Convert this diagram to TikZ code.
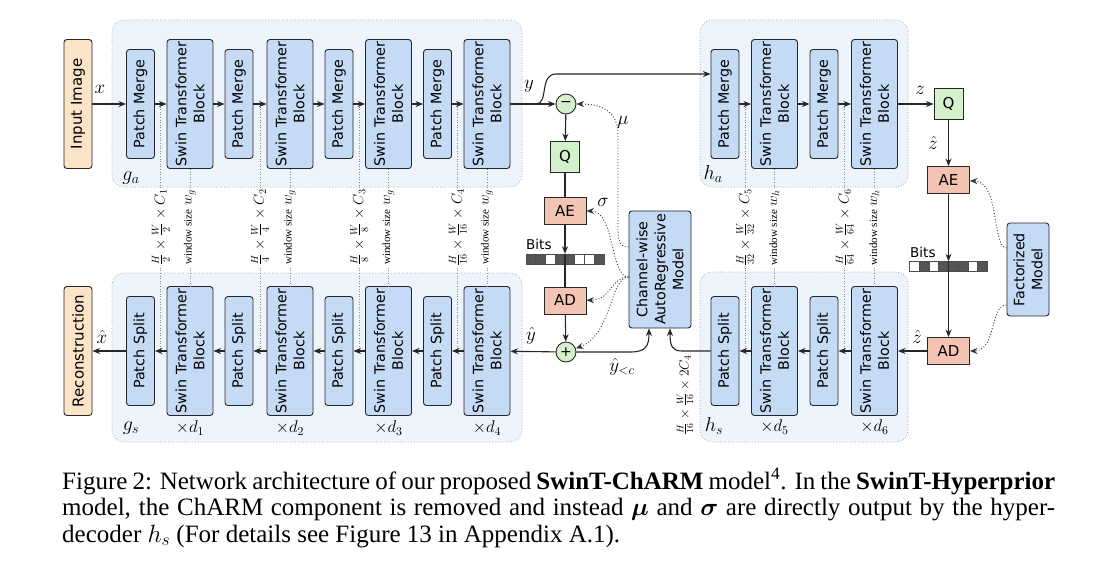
\documentclass[tikz,border=0pt]{standalone}
\usepackage{fix-cm}
\usepackage{amsmath}
\usepackage{fontspec}
\setmainfont{Liberation Serif}
\newfontfamily\dejavu{DejaVu Sans}
\usetikzlibrary{arrows.meta,calc}
\definecolor{groupbg}{HTML}{EEF4FC}
\definecolor{blockblue}{HTML}{C5DAF4}
\definecolor{ioorange}{HTML}{FBE4C8}
\definecolor{qgreen}{HTML}{D4F1CC}
\definecolor{aered}{HTML}{F3C3B3}
\definecolor{bitdark}{HTML}{555555}
\begin{document}
\begin{tikzpicture}[x=1pt,y=-1pt,
  >={Stealth[length=7.5pt,width=6pt]},
  plainline/.style={line width=1.1pt, draw=black!85},
  conn/.style={->, line width=1.1pt, draw=black!85},
  dconn/.style={->, dotted, line width=0.9pt, draw=black!80},
  grp/.style={fill=groupbg, draw=black!40, dotted, rounded corners=12pt, line width=0.7pt},
  blk/.style={draw=black!85, line width=0.9pt, fill=blockblue, rounded corners=3pt, rotate=90, inner sep=0pt, align=center, font=\dejavu\fontsize{14.3}{18}\selectfont},
  pmbox/.style={blk, minimum width=109pt, minimum height=28pt},
  stbbox/.style={blk, minimum width=129pt, minimum height=46pt},
  iobox/.style={blk, fill=ioorange, minimum width=129pt, minimum height=28pt, font=\dejavu\fontsize{15}{18}\selectfont},
  sqbox/.style={draw=black!85, line width=0.9pt, inner sep=0pt, font=\dejavu\fontsize{15}{17}\selectfont},
  qbox/.style={sqbox, fill=qgreen, minimum width=29pt, minimum height=31pt},
  codebox/.style={sqbox, fill=aered, minimum width=42pt, minimum height=27pt},
  opc/.style={circle, draw=black!85, line width=0.9pt, fill=qgreen, minimum size=20pt, inner sep=0pt, font=\dejavu\fontsize{14}{16}\selectfont},
  mlab/.style={font=\fontsize{19}{22}\selectfont, inner sep=0pt},
  glab/.style={font=\fontsize{20}{22}\selectfont, inner sep=0pt},
  dlab/.style={font=\fontsize{17}{20}\selectfont, inner sep=0pt},
  dimline/.style={dotted, draw=black!45, line width=0.6pt},
  dimlab/.style={rotate=90, fill=white, inner sep=1pt, font=\fontsize{14.5}{16}\selectfont},
  bitc/.style={draw=black!70, line width=0.5pt},
  bitslab/.style={anchor=south west, inner sep=0pt, font=\dejavu\fontsize{13.5}{15}\selectfont},
  caplab/.style={anchor=base west, inner sep=0pt, font=\fontsize{25}{27}\selectfont},
]
\fill[white] (0,0) rectangle (1119,566);
\useasboundingbox (0,0) rectangle (1119,566);

% groups
\draw[grp] (112,20) rectangle (522,187);
\draw[grp] (112,273) rectangle (522,442);
\draw[grp] (700,20) rectangle (908,187);
\draw[grp] (700,272) rectangle (908,442);

% top row
\node[iobox] (inp) at (78,104) {Input Image};
\node[pmbox] (pm1) at (140.5,104) {Patch Merge};
\node[stbbox] (st1) at (190,104) {Swin Transformer\\Block};
\node[pmbox] (pm2) at (239,104) {Patch Merge};
\node[stbbox] (st2) at (290,104) {Swin Transformer\\Block};
\node[pmbox] (pm3) at (339,104) {Patch Merge};
\node[stbbox] (st3) at (388.5,104) {Swin Transformer\\Block};
\node[pmbox] (pm4) at (437.5,104) {Patch Merge};
\node[stbbox] (st4) at (487,104) {Swin Transformer\\Block};
\node[pmbox] (pm5) at (725,104) {Patch Merge};
\node[stbbox] (st5) at (774.5,104) {Swin Transformer\\Block};
\node[pmbox] (pm6) at (824,104) {Patch Merge};
\node[stbbox] (st6) at (874.5,104) {Swin Transformer\\Block};

% bottom row
\node[iobox] (rec) at (78,351) {Reconstruction};
\node[pmbox] (ps1) at (140.5,351) {Patch Split};
\node[stbbox] (bt1) at (190,351) {Swin Transformer\\Block};
\node[pmbox] (ps2) at (239,351) {Patch Split};
\node[stbbox] (bt2) at (290,351) {Swin Transformer\\Block};
\node[pmbox] (ps3) at (339,351) {Patch Split};
\node[stbbox] (bt3) at (388.5,351) {Swin Transformer\\Block};
\node[pmbox] (ps4) at (437.5,351) {Patch Split};
\node[stbbox] (bt4) at (487,351) {Swin Transformer\\Block};
\node[pmbox] (ps5) at (725,351) {Patch Split};
\node[stbbox] (bt5) at (774.5,351) {Swin Transformer\\Block};
\node[pmbox] (ps6) at (824,351) {Patch Split};
\node[stbbox] (bt6) at (874.5,351) {Swin Transformer\\Block};

% dimension annotations
\draw[dimline] ($(pm1.south)!0.5!(st1.north)$) -- node[dimlab]{$\frac{H}{2}\times\frac{W}{2}\times C_1$} ($(ps1.south)!0.5!(bt1.north)$);
\draw[dimline] (st1.west) -- node[dimlab]{{\fontsize{11}{12}\selectfont window size} $w_g$} (bt1.east);
\draw[dimline] ($(pm2.south)!0.5!(st2.north)$) -- node[dimlab]{$\frac{H}{4}\times\frac{W}{4}\times C_2$} ($(ps2.south)!0.5!(bt2.north)$);
\draw[dimline] (st2.west) -- node[dimlab]{{\fontsize{11}{12}\selectfont window size} $w_g$} (bt2.east);
\draw[dimline] ($(pm3.south)!0.5!(st3.north)$) -- node[dimlab]{$\frac{H}{8}\times\frac{W}{8}\times C_3$} ($(ps3.south)!0.5!(bt3.north)$);
\draw[dimline] (st3.west) -- node[dimlab]{{\fontsize{11}{12}\selectfont window size} $w_g$} (bt3.east);
\draw[dimline] ($(pm4.south)!0.5!(st4.north)$) -- node[dimlab]{$\frac{H}{16}\times\frac{W}{16}\times C_4$} ($(ps4.south)!0.5!(bt4.north)$);
\draw[dimline] (st4.west) -- node[dimlab]{{\fontsize{11}{12}\selectfont window size} $w_g$} (bt4.east);
\draw[dimline] ($(pm5.south)!0.5!(st5.north)$) -- node[dimlab]{$\frac{H}{32}\times\frac{W}{32}\times C_5$} ($(ps5.south)!0.5!(bt5.north)$);
\draw[dimline] (st5.west) -- node[dimlab]{{\fontsize{11}{12}\selectfont window size} $w_h$} (bt5.east);
\draw[dimline] ($(pm6.south)!0.5!(st6.north)$) -- node[dimlab]{$\frac{H}{64}\times\frac{W}{64}\times C_6$} ($(ps6.south)!0.5!(bt6.north)$);
\draw[dimline] (st6.west) -- node[dimlab]{{\fontsize{11}{12}\selectfont window size} $w_h$} (bt6.east);

% top row connectors
\draw[conn] (inp) -- (pm1);
\draw[conn] (pm1) -- (st1);
\draw[conn] (st1) -- (pm2);
\draw[conn] (pm2) -- (st2);
\draw[conn] (st2) -- (pm3);
\draw[conn] (pm3) -- (st3);
\draw[conn] (st3) -- (pm4);
\draw[conn] (pm4) -- (st4);
\draw[conn] (pm5) -- (st5);
\draw[conn] (st5) -- (pm6);
\draw[conn] (pm6) -- (st6);

% bottom row connectors
\draw[conn] (bt6) -- (ps6);
\draw[conn] (ps6) -- (bt5);
\draw[conn] (bt5) -- (ps5);
\draw[conn] (bt4) -- (ps4);
\draw[conn] (ps4) -- (bt3);
\draw[conn] (bt3) -- (ps3);
\draw[conn] (ps3) -- (bt2);
\draw[conn] (bt2) -- (ps2);
\draw[conn] (ps2) -- (bt1);
\draw[conn] (bt1) -- (ps1);
\draw[conn] (ps1) -- (rec);

% middle coding chain
\node[opc] (minus) at (566,104) {−};
\node[qbox] (q1) at (565,157) {Q};
\node[codebox] (ae1) at (565,211) {AE};
\node[inner sep=0pt, minimum width=78pt, minimum height=10pt] (bits1) at (565,259) {};
\node[codebox] (ad1) at (565,300.5) {AD};
\node[opc] (plus) at (566,352) {+};
\node[blk, minimum width=117pt, minimum height=62pt] (charm) at (660,269.5) {Channel-wise\\AutoRegressive\\Model};

\foreach \i in {0,...,7} \draw[bitc, fill=white] ($(bits1.west)+(\i*9.75,-5)$) rectangle ++(9.75,10);
\foreach \i in {0,1,3,4,7} \draw[bitc, fill=bitdark] ($(bits1.west)+(\i*9.75,-5)$) rectangle ++(9.75,10);
\node[bitslab] (bl1) at (526,250) {Bits};

\draw[conn] (st4) -- (minus);
\coordinate (ybr) at (536,104);
\draw[conn] (ybr) .. controls (549,104) and (539,74) .. (556,74) -- (pm5.north |- 0,74);
\draw[conn] (minus) -- (q1);
\draw[plainline] (q1) -- (ae1);
\draw[conn] (ae1) -- (bits1.north);
\draw[plainline] (bits1.north) -- (ad1);
\draw[conn] (ad1) -- (plus);
\draw[conn] (plus) -- (bt4);
\draw[conn] (plus) -- (630,352) .. controls (646,352) and (649,346) .. (649,0 |- charm.west);
\draw[conn] (ps5) -- (682,351) .. controls (672,351) and (670,346) .. (670,0 |- charm.west);

\coordinate (cm1) at (charm.north |- 0,247);
\coordinate (cm2) at (charm.north |- 0,277);
\draw[dconn] (cm1) .. controls (618,247) and (618,238) .. (618,225) -- (618,135) .. controls (618,110) and (600,104) .. (minus);
\draw[dconn] (cm2) .. controls (610,277) and (615,211) .. (ae1);
\draw[dconn] (cm2) .. controls (610,277) and (612,300) .. (ad1);
\draw[dconn] (cm2) .. controls (610,277) and (612,335) .. (plus);

% right coding chain
\node[qbox] (q2) at (948.5,104) {Q};
\node[codebox] (ae2) at (948.5,180) {AE};
\node[inner sep=0pt, minimum width=78pt, minimum height=10pt] (bits2) at (948.5,266.5) {};
\node[codebox] (ad2) at (948.5,351) {AD};
\node[blk, minimum width=93pt, minimum height=42pt] (fm) at (1028,269.5) {Factorized\\Model};

\foreach \i in {0,...,7} \draw[bitc, fill=white] ($(bits2.west)+(\i*9.75,-5)$) rectangle ++(9.75,10);
\foreach \i in {1,3,4,5,7} \draw[bitc, fill=bitdark] ($(bits2.west)+(\i*9.75,-5)$) rectangle ++(9.75,10);
\node[bitslab] (bl2) at (910,257.5) {Bits};

\draw[conn] (st6) -- (q2);
\draw[conn] (q2) -- (ae2);
\draw[conn] (ae2) -- (bits2.north);
\draw[conn] (bits2.north) -- (ad2);
\draw[conn] (ad2) -- (bt6);
\draw[dconn] (fm.north |- 0,248) .. controls (992,248) and (1000,182) .. (ae2);
\draw[dconn] (fm.north |- 0,305) .. controls (990,305) and (996,351) .. (ad2);

% math labels
\node[mlab] (lx) at (100,89) {$x$};
\node[mlab] (ly) at (529,86) {$y$};
\node[mlab] (lmu) at (623,122) {$\mu$};
\node[mlab] (lsig) at (603,202) {$\sigma$};
\node[mlab] (lyh) at (531,336) {$\hat{y}$};
\node[mlab] (lyc) at (622,367) {$\hat{y}_{<c}$};
\node[mlab] (lxh) at (102,337) {$\hat{x}$};
\node[mlab] (lz) at (920,90) {$z$};
\node[mlab] (lzh1) at (933,143) {$\hat{z}$};
\node[mlab] (lzh2) at (917,337) {$\hat{z}$};
\node[rotate=90, inner sep=0pt, font=\fontsize{13.5}{15}\selectfont] (dim7) at (685,395) {$\frac{H}{16}\times\frac{W}{16}\times 2C_4$};

\node[glab] (lga) at (131,178) {$g_a$};
\node[glab] (lgs) at (131,428) {$g_s$};
\node[glab] (lha) at (713,174) {$h_a$};
\node[glab] (lhs) at (714,426) {$h_s$};
\node[dlab] (d1) at (190,428) {$\times d_1$};
\node[dlab] (d2) at (290,428) {$\times d_2$};
\node[dlab] (d3) at (388.5,428) {$\times d_3$};
\node[dlab] (d4) at (487,428) {$\times d_4$};
\node[dlab] (d5) at (774.5,427) {$\times d_5$};
\node[dlab] (d6) at (874.5,427) {$\times d_6$};

% caption
\node[caplab] (cap1) at (62,489) {\makebox[993pt][s]{Figure 2: Network architecture of our proposed \textbf{SwinT-ChARM} model\textsuperscript{4}. In the \textbf{SwinT-Hyperprior}}};
\node[caplab] (cap2) at (62,515.5) {\makebox[993pt][s]{model, the ChARM component is removed and instead $\boldsymbol{\mu}$ and $\boldsymbol{\sigma}$ are directly output by the hyper-}};
\node[caplab] (cap3) at (62,542) {decoder $h_s$ (For details see Figure 13 in Appendix A.1).};
\end{tikzpicture}
\end{document}
